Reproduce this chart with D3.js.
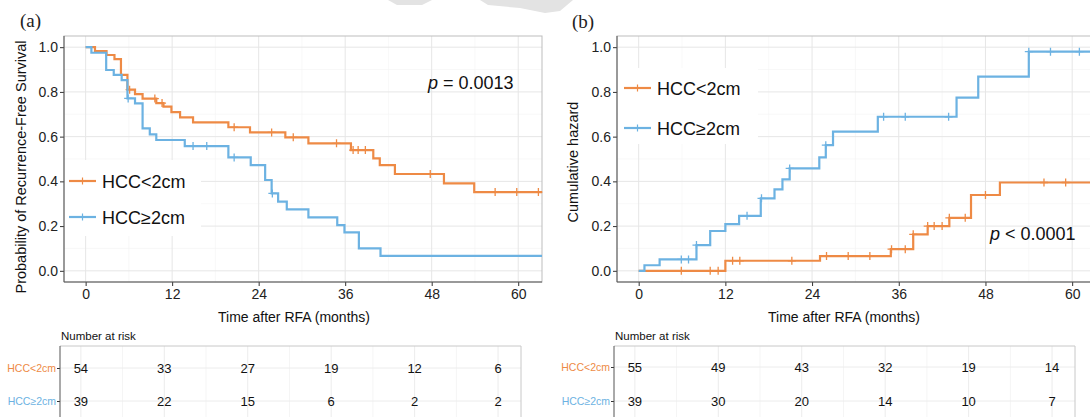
<!DOCTYPE html>
<html>
<head>
<meta charset="utf-8">
<script src="https://cdn.jsdelivr.net/npm/d3@7"></script>
<style>
  body { margin: 0; background: #fff; }
  text { font-family: "Liberation Sans", Arial, sans-serif; }
</style>
</head>
<body>
<script>
// ---- data ----
const groups = ["HCC<2cm", "HCC≥2cm"];
const timeTicks = [0, 12, 24, 36, 48, 60];
const timeMinor = [6, 18, 30, 42, 54];
const probTicks = [0, 0.2, 0.4, 0.6, 0.8, 1.0];
const probMinor = [0.1, 0.3, 0.5, 0.7, 0.9];

// (a) recurrence-free survival, [month, probability] at each step
const rfsSmall = [[0, 1.0], [1.3, 0.983], [2.9, 0.965], [4.0, 0.947], [4.9, 0.876], [5.8, 0.81], [6.85, 0.79],
  [7.9, 0.77], [9.8, 0.75], [10.8, 0.734], [11.9, 0.71], [13.1, 0.686], [14.9, 0.664], [19.8, 0.642],
  [22.8, 0.619], [27.7, 0.597], [30.9, 0.57], [36.8, 0.54], [39.9, 0.503], [40.8, 0.473], [42.9, 0.433],
  [49.7, 0.391], [53.9, 0.352]];
const rfsLarge = [[0, 1.0], [0.8, 0.975], [2.85, 0.898], [3.9, 0.876], [5.0, 0.853], [5.8, 0.771], [6.85, 0.749],
  [7.9, 0.637], [8.9, 0.61], [9.8, 0.585], [13.75, 0.558], [19.8, 0.507], [22.9, 0.473], [24.9, 0.406],
  [25.8, 0.346], [26.7, 0.309], [27.9, 0.275], [30.9, 0.239], [34.9, 0.204], [35.9, 0.172], [37.9, 0.10],
  [40.9, 0.067]];
const rfsSmallCensor = [6.1, 9.6, 10.6, 20.6, 25.8, 28.8, 34.8, 37.1, 37.8, 38.8, 47.8, 56.8, 59.8, 62.8];
const rfsLargeCensor = [5.9, 14.9, 16.8, 20.6, 25.9];

// (b) cumulative hazard, [month, value] at each step
const hazSmall = [[0, 0], [12.0, 0.045], [25.1, 0.066], [34.9, 0.097], [38.0, 0.163], [40.0, 0.2],
  [43.0, 0.237], [46.0, 0.339], [50.0, 0.395]];
const hazLarge = [[0, 0], [0.8, 0.025], [2.9, 0.051], [8.0, 0.115], [9.9, 0.178], [12.0, 0.209], [13.9, 0.246],
  [16.9, 0.324], [18.8, 0.364], [19.9, 0.409], [20.9, 0.458], [25.0, 0.507], [25.9, 0.562], [26.9, 0.622],
  [33.1, 0.689], [44.0, 0.774], [47.0, 0.868], [54.0, 0.98]];
const hazSmallCensor = [5.9, 9.9, 11.0, 13.0, 14.0, 21.2, 26.0, 29.0, 32.0, 35.0, 36.9, 38.0, 40.0, 40.9,
  42.0, 43.0, 45.2, 48.0, 56.1, 59.1];
const hazLargeCensor = [5.9, 6.9, 8.0, 15.0, 17.0, 20.9, 25.9, 33.9, 36.9, 42.9, 54.0, 57.0, 61.0];

// number at risk at 0,12,...,60
const riskASmall = [54, 33, 27, 19, 12, 6];
const riskALarge = [39, 22, 15, 6, 2, 2];
const riskBSmall = [55, 49, 43, 32, 19, 14];
const riskBLarge = [39, 30, 20, 14, 10, 7];

// ---- layout ----
const colors = ["#EE8A45", "#6CB2E2"];
const W = 1090, H = 417;

const svg = d3.select("body").append("svg").attr("width", W).attr("height", H);

// faint watermark at the top edge
svg.append("polygon").attr("points", "388,0 397,5 422,5 432,0").attr("fill", "#e3e3e3");
svg.append("polygon").attr("points", "480,0 488,5 520,8 545,13 560,11 573,0").attr("fill", "#e3e3e3");

const panels = [
  {
    label: "(a)", labelX: 20, labelY: 27,
    left: 64, right: 542, top: 36, bottom: 282,
    yTitle: "Probability of Recurrence-Free Survival", yTitleX: 26, yTitleY: 167,
    xTitleX: 294,
    curves: [rfsSmall, rfsLarge], censors: [rfsSmallCensor, rfsLargeCensor],
    pText: "= 0.0013", pX: 428, pY: 89,
    legendX: 69, legendY: 181, legendGap: 36, legendBox: [64, 160, 136, 76],
    tableLeft: 60, tableRight: 521, rows: [368, 401],
    risk: [riskASmall, riskALarge]
  },
  {
    label: "(b)", labelX: 572, labelY: 28,
    left: 617, right: 1096, top: 36, bottom: 282,
    yTitle: "Cumulative hazard", yTitleX: 578, yTitleY: 162,
    xTitleX: 844,
    curves: [hazSmall, hazLarge], censors: [hazSmallCensor, hazLargeCensor],
    pText: "< 0.0001", pX: 990, pY: 240,
    legendX: 624, legendY: 88, legendGap: 40, legendBox: [617, 68, 140, 76],
    tableLeft: 614, tableRight: 1075, rows: [367, 401],
    risk: [riskBSmall, riskBLarge]
  }
];

panels.forEach(drawPanel);

function drawPanel(p) {
  const x = d3.scaleLinear().domain([-3, 63.3]).range([p.left, p.right]);
  const y = d3.scaleLinear().domain([-0.05, 1.05]).range([p.bottom, p.top]);
  const g = svg.append("g");

  // grid
  const grid = g.append("g");
  grid.selectAll(".vmin").data(timeMinor).enter().append("line")
    .attr("x1", d => x(d)).attr("x2", d => x(d)).attr("y1", p.top).attr("y2", p.bottom)
    .attr("stroke", "#f3f3f3").attr("stroke-width", 0.6);
  grid.selectAll(".hmin").data(probMinor).enter().append("line")
    .attr("x1", p.left).attr("x2", p.right).attr("y1", d => y(d)).attr("y2", d => y(d))
    .attr("stroke", "#f3f3f3").attr("stroke-width", 0.6);
  grid.selectAll(".vmaj").data(timeTicks).enter().append("line")
    .attr("x1", d => x(d)).attr("x2", d => x(d)).attr("y1", p.top).attr("y2", p.bottom)
    .attr("stroke", "#e6e6e6").attr("stroke-width", 1);
  grid.selectAll(".hmaj").data(probTicks).enter().append("line")
    .attr("x1", p.left).attr("x2", p.right).attr("y1", d => y(d)).attr("y2", d => y(d))
    .attr("stroke", "#e6e6e6").attr("stroke-width", 1);

  // legend background hides the grid
  const [bx, by, bw, bh] = p.legendBox;
  g.append("rect").attr("x", bx + 1).attr("y", by).attr("width", bw).attr("height", bh).attr("fill", "#fff");

  g.append("rect").attr("x", p.left).attr("y", p.top)
    .attr("width", p.right - p.left).attr("height", p.bottom - p.top)
    .attr("fill", "none").attr("stroke", "#bdbdbd").attr("stroke-width", 1);

  // curves
  const line = d3.line().x(d => x(d[0])).y(d => y(d[1])).curve(d3.curveStepAfter);
  const tMax = x.domain()[1];
  p.curves.forEach((c, i) => {
    const pts = c.concat([[tMax, c[c.length - 1][1]]]);
    g.append("path").attr("d", line(pts)).attr("fill", "none")
      .attr("stroke", colors[i]).attr("stroke-width", 2.2);
    const bis = d3.bisector(d => d[0]).right;
    const marks = p.censors[i].map(t => [t, c[Math.max(0, bis(c, t) - 1)][1]]);
    g.selectAll(null).data(marks).enter().append("path")
      .attr("d", d => `M${x(d[0]) - 4},${y(d[1])}h8M${x(d[0])},${y(d[1]) - 4}v8`)
      .attr("stroke", colors[i]).attr("stroke-width", 1.3);
  });

  // axes
  const xAxis = g.append("g").attr("transform", `translate(0,${p.bottom})`)
    .call(d3.axisBottom(x).tickValues(timeTicks).tickSize(4).tickPadding(3));
  const yAxis = g.append("g").attr("transform", `translate(${p.left},0)`)
    .call(d3.axisLeft(y).tickValues(probTicks).tickFormat(d3.format(".1f")).tickSize(4).tickPadding(2));
  [xAxis, yAxis].forEach(a => {
    a.select(".domain").remove();
    a.selectAll("line").attr("stroke", "#333");
    a.selectAll("text").attr("fill", "#222").style("font-size", "14px");
  });
  g.append("line").attr("x1", p.left).attr("x2", p.left).attr("y1", p.top).attr("y2", p.bottom)
    .attr("stroke", "#555").attr("stroke-width", 1);
  g.append("line").attr("x1", p.left).attr("x2", p.right).attr("y1", p.bottom).attr("y2", p.bottom)
    .attr("stroke", "#555").attr("stroke-width", 1);

  // titles
  g.append("text").attr("x", p.xTitleX).attr("y", 322).attr("text-anchor", "middle")
    .style("font-size", "14px").attr("fill", "#111").text("Time after RFA (months)");
  g.append("text").attr("transform", `translate(${p.yTitleX},${p.yTitleY}) rotate(-90)`)
    .attr("text-anchor", "middle").style("font-size", "14.5px").attr("fill", "#111").text(p.yTitle);
  g.append("text").attr("x", p.labelX).attr("y", p.labelY)
    .style("font-family", "'Liberation Serif', 'DejaVu Serif', serif").style("font-size", "19px")
    .attr("fill", "#222").text(p.label);

  // p value
  const pt = g.append("text").attr("x", p.pX).attr("y", p.pY).style("font-size", "18px").attr("fill", "#111");
  pt.append("tspan").style("font-style", "italic").text("p");
  pt.append("tspan").text(" " + p.pText);

  // legend
  groups.forEach((name, i) => {
    const ly = p.legendY + i * p.legendGap;
    g.append("line").attr("x1", p.legendX).attr("x2", p.legendX + 27).attr("y1", ly).attr("y2", ly)
      .attr("stroke", colors[i]).attr("stroke-width", 2.2);
    g.append("path").attr("d", `M${p.legendX + 13.5},${ly - 3.5}v7`).attr("stroke", colors[i]).attr("stroke-width", 1.2);
    g.append("text").attr("x", p.legendX + 33).attr("y", ly + 6.5).style("font-size", "18px")
      .attr("fill", "#111").text(name);
  });

  // risk table
  const tx = d3.scaleLinear().domain([-3, 63.3]).range([p.tableLeft, p.tableRight]);
  const ty = d3.scalePoint().domain(groups).range(p.rows);
  const t = svg.append("g");
  t.append("text").attr("x", p.tableLeft + 1).attr("y", 340).style("font-size", "11.5px")
    .attr("fill", "#111").text("Number at risk");
  t.selectAll(".tv").data(timeTicks.concat(timeMinor)).enter().append("line")
    .attr("x1", d => tx(d)).attr("x2", d => tx(d)).attr("y1", 346).attr("y2", H)
    .attr("stroke", d => timeTicks.includes(d) ? "#ececec" : "#f5f5f5");
  t.selectAll(".th").data(groups).enter().append("line")
    .attr("x1", p.tableLeft).attr("x2", p.tableRight).attr("y1", d => ty(d)).attr("y2", d => ty(d))
    .attr("stroke", "#ececec");
  t.append("line").attr("x1", p.tableLeft).attr("x2", p.tableRight).attr("y1", 346).attr("y2", 346)
    .attr("stroke", "#c8c8c8");
  t.append("line").attr("x1", p.tableRight).attr("x2", p.tableRight).attr("y1", 346).attr("y2", H)
    .attr("stroke", "#c8c8c8");
  const rowAxis = t.append("g").attr("transform", `translate(${p.tableLeft},0)`)
    .call(d3.axisLeft(ty).tickSize(3).tickPadding(1));
  rowAxis.select(".domain").remove();
  rowAxis.selectAll("line").attr("stroke", "#333");
  rowAxis.selectAll("text").style("font-size", "10.5px").attr("fill", (d, i) => colors[i]);
  t.append("line").attr("x1", p.tableLeft).attr("x2", p.tableLeft).attr("y1", 346).attr("y2", H)
    .attr("stroke", "#555");
  p.risk.forEach((vals, i) => {
    t.selectAll(null).data(vals).enter().append("text")
      .attr("x", (d, j) => tx(timeTicks[j])).attr("y", ty(groups[i]) + 5)
      .attr("text-anchor", "middle").style("font-size", "13px").attr("fill", "#111")
      .text(d => d);
  });
}
</script>
</body>
</html>
